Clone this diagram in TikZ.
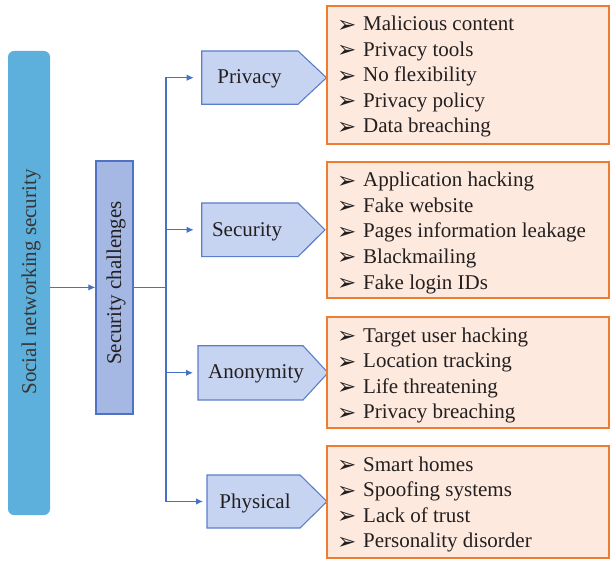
\documentclass[tikz,border=0pt]{standalone}
\usepackage{fontspec}
\setmainfont{Liberation Serif}
\newfontfamily\bulfont{DejaVu Sans}
\usetikzlibrary{arrows.meta}
\definecolor{snsblue}{HTML}{5DB0DC}
\definecolor{chalfill}{HTML}{A5B8E4}
\definecolor{chaldraw}{HTML}{4F72C4}
\definecolor{abfill}{HTML}{C7D4F1}
\definecolor{abdraw}{HTML}{5A7ECB}
\definecolor{orfill}{HTML}{FDE9DD}
\definecolor{ordraw}{HTML}{ED7D31}
\definecolor{conn}{HTML}{4472C4}
\definecolor{txt}{HTML}{231F20}
\newcommand{\bulsym}{\makebox[26pt][l]{\bulfont\fontsize{23}{23}\selectfont\raisebox{-1.5pt}{➢}}}
\tikzset{
  conline/.style={draw=conn, line width=1.2pt},
  conarrow/.style={conline, -{Latex[length=7pt,width=6.5pt]}},
  abshape/.style={fill=abfill, draw=abdraw, line width=1.1pt, line join=miter},
  orbox/.style={fill=orfill, draw=ordraw, line width=2pt},
  lbl/.style={text=txt, font=\fontsize{21}{24}\selectfont, inner sep=0pt},
  item/.style={lbl, anchor=base west},
}
\begin{document}
\begin{tikzpicture}[x=1pt,y=-1pt]
\useasboundingbox (0,0) rectangle (610,561);
% left box
\node[fill=snsblue, rounded corners=6pt, minimum width=42pt, minimum height=464pt, inner sep=0pt] (sns) at (29,283) {};
\node[lbl, rotate=90, text=txt!90!white] (snstext) at (31,282) {Social networking security};
% challenges box
\node[fill=chalfill, draw=chaldraw, line width=1.3pt, minimum width=37pt, minimum height=253pt, inner sep=0pt] (chal) at (114.5,287.4) {};
\node[lbl, rotate=90] (chaltext) at (116,283) {Security challenges};
\draw[conarrow] (sns.east |- chal.west) -- (chal.west);
\coordinate (trunk) at (166,287.4);
\draw[conline] (chal.east) -- (trunk);
% arrow boxes
\draw[abshape] (201.7,51) -- (298,51) -- (326.5,77.7) -- (298,104.3) -- (201.7,104.3) -- cycle;
\coordinate (privacy) at (201.7,77.7);
\node[lbl] (privacyt) at (249.5,79) {Privacy};
\draw[abshape] (201.7,203) -- (298,203) -- (325,229.8) -- (298,256.7) -- (201.7,256.7) -- cycle;
\coordinate (security) at (201.7,229.8);
\node[lbl] (securityt) at (247,231.5) {Security};
\draw[abshape] (198,345.7) -- (303,345.7) -- (328,372.8) -- (303,400) -- (198,400) -- cycle;
\coordinate (anon) at (198,372.8);
\node[lbl] (anont) at (256,374) {Anonymity};
\draw[abshape] (207,475) -- (300,475) -- (327,501.5) -- (300,528) -- (207,528) -- cycle;
\coordinate (phys) at (207,501.5);
\node[lbl] (physt) at (255,503) {Physical};
% connectors
\draw[conarrow, shorten >=8pt] (trunk) |- (privacy);
\draw[conarrow, shorten >=8pt] (trunk) |- (security);
\draw[conarrow, shorten >=5pt] (trunk) |- (anon);
\draw[conarrow, shorten >=4pt] (trunk) |- (phys);
% orange boxes
\draw[orbox] (327,6) rectangle (608.5,144);
\draw[orbox] (327,161.7) rectangle (608.5,298);
\draw[orbox] (327,316.7) rectangle (608.5,428.3);
\draw[orbox] (327,446) rectangle (608.5,558.3);
% items
\node[item] (a1) at (337,31) {\bulsym Malicious content};
\node[item] (a2) at (337,56.5) {\bulsym Privacy tools};
\node[item] (a3) at (337,82) {\bulsym No flexibility};
\node[item] (a4) at (337,107.5) {\bulsym Privacy policy};
\node[item] (a5) at (337,133) {\bulsym Data breaching};
\node[item] (b1) at (337,187) {\bulsym Application hacking};
\node[item] (b2) at (337,212.5) {\bulsym Fake website};
\node[item] (b3) at (337,238) {\bulsym Pages information leakage};
\node[item] (b4) at (337,263.5) {\bulsym Blackmailing};
\node[item] (b5) at (337,289) {\bulsym Fake login IDs};
\node[item] (c1) at (337,342) {\bulsym Target user hacking};
\node[item] (c2) at (337,367.5) {\bulsym Location tracking};
\node[item] (c3) at (337,393) {\bulsym Life threatening};
\node[item] (c4) at (337,418.5) {\bulsym Privacy breaching};
\node[item] (d1) at (337,471) {\bulsym Smart homes};
\node[item] (d2) at (337,496.5) {\bulsym Spoofing systems};
\node[item] (d3) at (337,522) {\bulsym Lack of trust};
\node[item] (d4) at (337,547.5) {\bulsym Personality disorder};
\end{tikzpicture}
\end{document}
